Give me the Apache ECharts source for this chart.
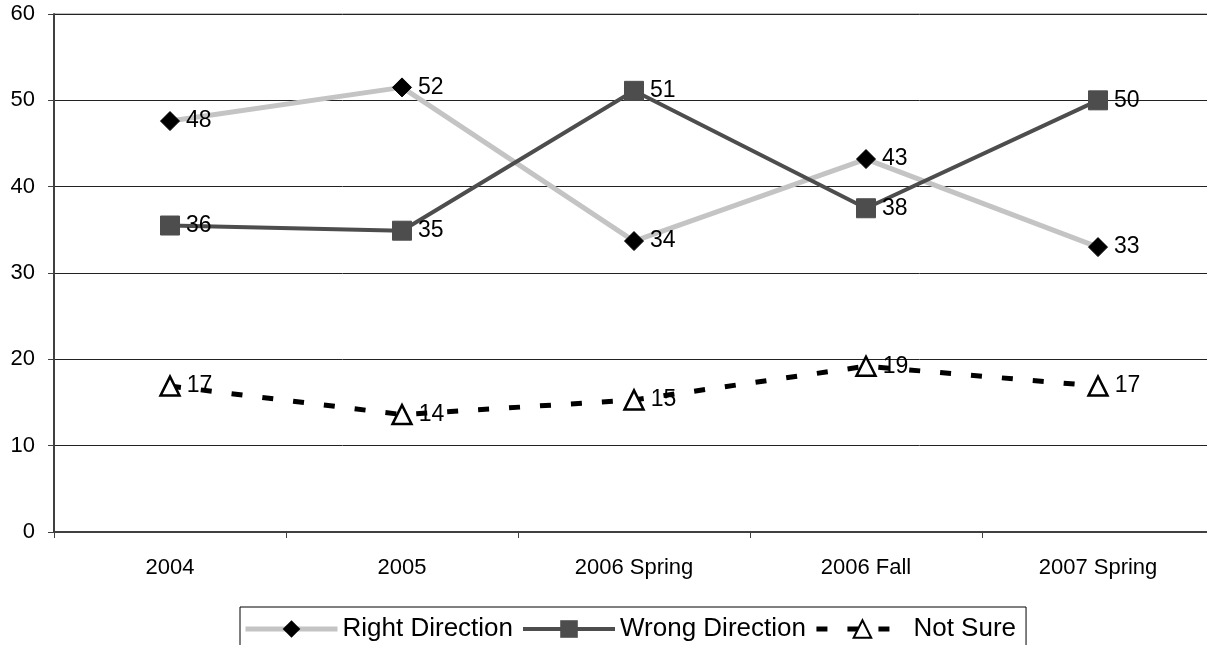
<!DOCTYPE html>
<html><head><meta charset="utf-8">
<script src="https://cdn.jsdelivr.net/npm/echarts@6/dist/echarts.min.js"></script>
<style>html,body{margin:0;padding:0;background:#fff}#c{width:1207px;height:645px}</style>
</head><body><div id="c"></div>
<script>
const categories = ['2004', '2005', '2006 Spring', '2006 Fall', '2007 Spring'];
const rightDirection = [47.6, 51.5, 33.7, 43.2, 33.0];
const wrongDirection = [35.5, 34.9, 51.1, 37.5, 50.0];
const notSure = [16.9, 13.6, 15.3, 19.2, 16.9];
const rightLabels = [48, 52, 34, 43, 33];
const wrongLabels = [36, 35, 51, 38, 50];
const notSureLabels = [17, 14, 15, 19, 17];
const yTicks = [0, 10, 20, 30, 40, 50, 60];

const chart = echarts.init(document.getElementById('c'), null, {renderer: 'canvas'});
const font = 'Liberation Sans, Arial, sans-serif';
function lbl(arr) {
  return {show: true, position: 'right', distance: 6, color: '#000', fontSize: 23, fontFamily: font,
    formatter: p => String(arr[p.dataIndex])};
}
chart.setOption({
  animation: false,
  grid: {left: 54, top: 14, width: 1160, height: 518, outerBoundsMode: 'none', containLabel: false,
    show: true, borderColor: '#808080', borderWidth: 1},
  xAxis: {
    type: 'category', data: categories, boundaryGap: true,
    axisLine: {lineStyle: {color: '#404040', width: 2}},
    axisTick: {show: true, length: 6, lineStyle: {color: '#404040', width: 1}},
    axisLabel: {color: '#000', fontSize: 22, fontFamily: font, margin: 25},
    splitLine: {show: false}
  },
  yAxis: {
    type: 'value', min: 0, max: 60, interval: 10,
    axisLine: {show: true, lineStyle: {color: '#404040', width: 2}},
    axisTick: {show: true, length: 6, lineStyle: {color: '#404040'}},
    axisLabel: {color: '#000', fontSize: 22, fontFamily: font, margin: 19,
      formatter: v => yTicks.includes(v) ? String(v) : ''},
    splitLine: {show: true, lineStyle: {color: '#222', width: 1}}
  },
  legend: {
    top: 607, left: 240, itemWidth: 92, itemHeight: 22, itemGap: 8,
    borderColor: '#000', borderWidth: 1, padding: [9, 10, 10, 3],
    textStyle: {fontSize: 26, fontFamily: font, color: '#000'},
    data: [
      {name: 'Right Direction', lineStyle: {width: 5}},
      {name: 'Wrong Direction', lineStyle: {width: 4}},
      {name: 'Not Sure', lineStyle: {width: 5}}
    ]
  },
  series: [
    {name: 'Right Direction', type: 'line', data: rightDirection,
      lineStyle: {color: '#c4c4c4', width: 5},
      itemStyle: {color: '#000', borderColor: '#000'},
      symbol: 'diamond', symbolSize: 19, label: lbl(rightLabels), z: 2},
    {name: 'Wrong Direction', type: 'line', data: wrongDirection,
      lineStyle: {color: '#4d4d4d', width: 4},
      itemStyle: {color: '#4d4d4d', borderColor: '#4d4d4d'},
      symbol: 'rect', symbolSize: 19, label: lbl(wrongLabels), z: 3},
    {name: 'Not Sure', type: 'line', data: notSure,
      lineStyle: {color: '#000', width: 5, type: [11, 20]},
      itemStyle: {color: '#fff', borderColor: '#000', borderWidth: 2.5},
      symbol: 'triangle', symbolSize: 19, label: lbl(notSureLabels), z: 4}
  ]
});
</script></body></html>
